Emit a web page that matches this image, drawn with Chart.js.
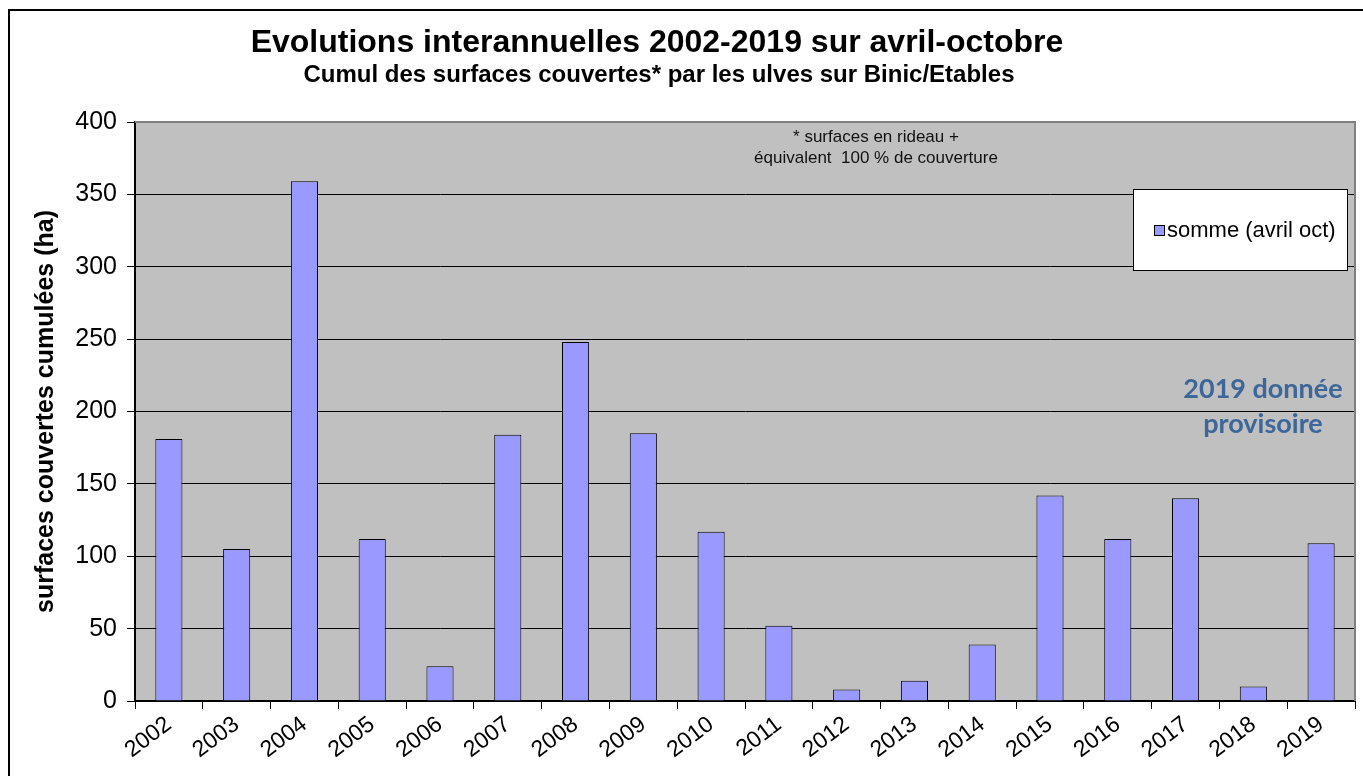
<!DOCTYPE html>
<html>
<head>
<meta charset="utf-8">
<script src="https://cdn.jsdelivr.net/npm/chart.js@4"></script>
<style>
  html, body { margin: 0; padding: 0; background: #fff; }
  #wrap { width: 1363px; height: 776px; position: relative; }
</style>
</head>
<body>
<div id="wrap"><canvas id="myChart" width="1363" height="776"></canvas></div>
<script>
// years on the category axis
var years = ["2002", "2003", "2004", "2005", "2006", "2007", "2008", "2009", "2010",
             "2011", "2012", "2013", "2014", "2015", "2016", "2017", "2018", "2019"];

// cumulated covered surfaces, april-october (ha)
var somme = [181, 105, 359, 112, 24, 184, 248, 185, 117,
             52, 8, 14, 39, 142, 112, 140, 10, 109];

var seriesLabel = "somme (avril oct)";
var titleText = "Evolutions interannuelles 2002-2019 sur avril-octobre";
var subtitleText = "Cumul des surfaces couvertes* par les ulves sur Binic/Etables";
var noteLines = ["* surfaces en rideau +", "équivalent  100 % de couverture"];
var provisoireLines = ["2019 donnée", "provisoire"];

const barColor = "#9999FF";
const arial = "Arial, 'Liberation Sans', sans-serif";

// draws frame, plot background, titles, notes and the boxed legend
const decorations = {
    id: "decorations",
    beforeDraw(chart) {
        const ctx = chart.ctx;
        const a = chart.chartArea;
        ctx.save();
        ctx.fillStyle = "#fff";
        ctx.fillRect(0, 0, chart.width, chart.height);

        // outer frame
        ctx.strokeStyle = "#000";
        ctx.lineWidth = 2;
        ctx.beginPath();
        ctx.moveTo(9, chart.height + 2);
        ctx.lineTo(9, 10);
        ctx.lineTo(chart.width + 2, 10);
        ctx.stroke();

        // plot background
        ctx.fillStyle = "#C0C0C0";
        ctx.fillRect(a.left, a.top, a.right - a.left, a.bottom - a.top);
        ctx.restore();
    },
    afterDatasetsDraw(chart) {
        const ctx = chart.ctx;
        const a = chart.chartArea;
        ctx.save();

        // gray top/right border of plot
        ctx.strokeStyle = "#808080";
        ctx.lineWidth = 2;
        ctx.beginPath();
        ctx.moveTo(a.left, a.top);
        ctx.lineTo(a.right, a.top);
        ctx.lineTo(a.right, a.bottom);
        ctx.stroke();

        // titles
        ctx.fillStyle = "#000";
        ctx.textAlign = "center";
        ctx.textBaseline = "middle";
        ctx.font = "bold 32px " + arial;
        ctx.fillText(titleText, 657, 43);
        ctx.font = "bold 24px " + arial;
        ctx.fillText(subtitleText, 659, 75);

        // footnote inside plot
        ctx.font = "17px " + arial;
        ctx.fillStyle = "#111";
        ctx.fillText(noteLines[0], 876, 137);
        ctx.fillText(noteLines[1], 876, 158);

        // provisional note
        ctx.font = "bold 27px Lato, 'Open Sans', sans-serif";
        ctx.fillStyle = "#3D6699";
        ctx.fillText(provisoireLines[0], 1263, 389);
        ctx.fillText(provisoireLines[1], 1263, 424);

        // legend box
        ctx.fillStyle = "#fff";
        ctx.fillRect(1133, 189, 214, 81);
        ctx.strokeStyle = "#000";
        ctx.lineWidth = 1;
        ctx.strokeRect(1133.5, 189.5, 214, 81);
        ctx.fillStyle = barColor;
        ctx.fillRect(1154, 225, 10, 10);
        ctx.strokeRect(1154.5, 225.5, 10, 10);
        ctx.fillStyle = "#000";
        ctx.textAlign = "left";
        ctx.font = "22px " + arial;
        ctx.fillText(chart.data.datasets[0].label, 1167, 231);

        ctx.restore();
    }
};

const config = {
    type: "bar",
    data: {
        labels: years,
        datasets: [{
            label: seriesLabel,
            data: somme,
            backgroundColor: barColor,
            borderColor: "#000",
            borderWidth: 1,
            barPercentage: 0.4,
            categoryPercentage: 1.0
        }]
    },
    options: {
        responsive: false,
        animation: false,
        layout: { padding: { top: 122, left: 0, right: 8, bottom: 0 } },
        plugins: {
            legend: { display: false },
            tooltip: { enabled: false }
        },
        scales: {
            x: {
                afterFit: (scale) => { scale.height = 75; },
                border: { color: "#000", width: 2 },
                grid: { drawOnChartArea: false, drawTicks: true, tickLength: 8, color: "#000", offset: true },
                ticks: {
                    color: "#000",
                    font: { family: arial, size: 23 },
                    minRotation: 37,
                    maxRotation: 37,
                    padding: 2,
                    autoSkip: false
                }
            },
            y: {
                min: 0,
                max: 400,
                afterFit: (scale) => { scale.width = 135; },
                border: { color: "#000", width: 2 },
                grid: { color: "#000", lineWidth: 1, tickLength: 8, drawTicks: true },
                ticks: {
                    stepSize: 50,
                    color: "#000",
                    padding: 10,
                    font: { family: arial, size: 25 }
                },
                title: {
                    display: true,
                    text: "surfaces couvertes cumulées (ha)",
                    color: "#000",
                    font: { family: arial, size: 25, weight: "bold" },
                    padding: { top: 31, bottom: 0 }
                }
            }
        }
    },
    plugins: [decorations]
};

new Chart(document.getElementById("myChart"), config);
</script>
</body>
</html>
